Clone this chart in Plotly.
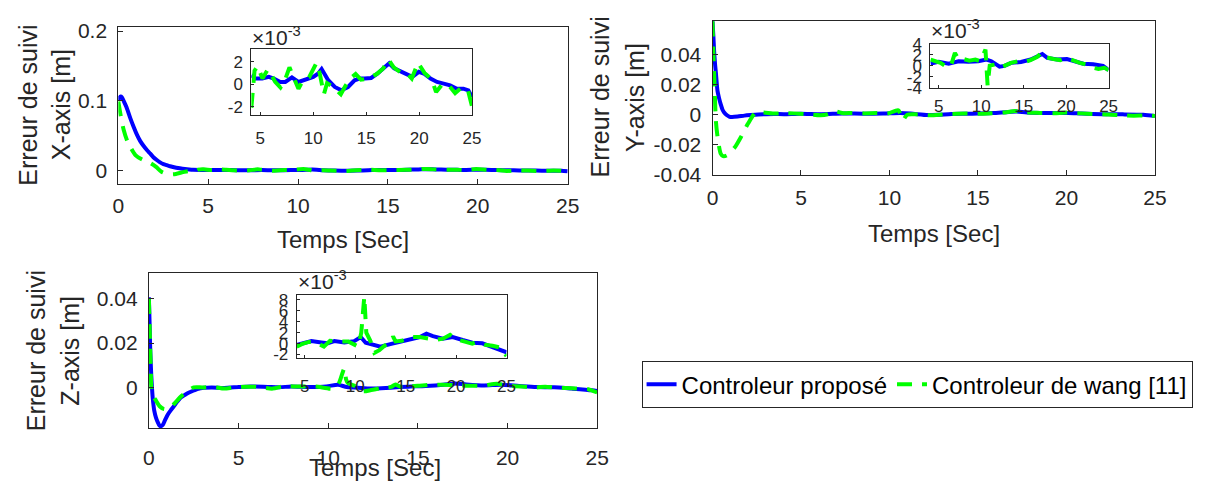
import plotly.graph_objects as go

# ---------------- DATA ----------------
# Transient part (metres)
t_x_blue_tr = [0, 0.05, 0.13, 0.2, 0.31, 0.45, 0.68, 0.86, 1.04, 1.22, 1.41, 1.6, 1.78, 1.95, 2.14, 2.3, 2.51, 2.7, 2.88, 3.1, 3.42, 3.7, 3.95]
x_blue_tr = [0.100, 0.104, 0.106, 0.105, 0.099, 0.091, 0.074, 0.062, 0.051, 0.042, 0.035, 0.029, 0.024, 0.019, 0.015, 0.012, 0.009, 0.0075, 0.006, 0.0045, 0.003, 0.0019, 0.0012]
t_x_green_tr = [0, 0.13, 0.3, 0.5, 0.7, 0.95, 1.3, 1.78, 2.1, 2.4, 2.8, 3.2, 3.6, 3.9]
x_green_tr = [0.099, 0.079, 0.058, 0.042, 0.032, 0.022, 0.016, 0.0105, 0.005, -0.002, -0.0055, -0.005, -0.0025, -0.001]

t_y_blue_tr = [0, 0.05, 0.09, 0.14, 0.19, 0.28, 0.37, 0.47, 0.56, 0.66, 0.8, 0.94, 1.1, 1.42, 1.8, 2.17, 2.6, 3.0, 3.5]
y_blue_tr = [0.062, 0.052, 0.0425, 0.034, 0.028, 0.016, 0.011, 0.0067, 0.0035, 0.0015, -0.0002, -0.0012, -0.0015, -0.0012, -0.0006, -0.0002, 0.0002, 0.0004, 0.0005]
t_y_green_tr = [0, 0.06, 0.13, 0.19, 0.3, 0.47, 0.6, 0.8, 1.0, 1.3, 1.6, 2.0, 2.45, 2.9, 3.4, 3.8]
y_green_tr = [0.062, 0.038, 0.015, -0.004, -0.016, -0.026, -0.0275, -0.027, -0.025, -0.021, -0.015, -0.006, 0.0015, 0.0015, 0.0008, 0.0009]

t_z_blue_tr = [0, 0.04, 0.07, 0.1, 0.13, 0.18, 0.22, 0.3, 0.4, 0.5, 0.59, 0.68, 0.77, 0.9, 1.05, 1.25, 1.42, 1.6, 1.78, 2.0, 2.24, 2.5, 2.7, 3.07, 3.5]
z_blue_tr = [0.0407, 0.029, 0.0186, 0.012, 0.006, -0.001, -0.0053, -0.0105, -0.0138, -0.0158, -0.0172, -0.0175, -0.017, -0.0148, -0.0123, -0.01, -0.0082, -0.0063, -0.0046, -0.0034, -0.0023, -0.0014, -0.0008, -0.0002, 0.0]
t_z_green_tr = [0, 0.05, 0.1, 0.15, 0.25, 0.4, 0.6, 0.85, 1.1, 1.4, 1.8, 2.2, 2.5, 3.0, 3.6]
z_green_tr = [0.040, 0.025, 0.01, -0.001, -0.004, -0.006, -0.0085, -0.0098, -0.0096, -0.0075, -0.004, -0.0015, 0.0, 0.0, 0.0002]

# Steady-state part (units of 1e-3 m)
t_x_blue_ss = [4.15, 4.55, 5.18, 5.8, 6.27, 6.89, 7.36, 7.98, 8.6, 9.23, 10.0, 10.47, 10.79, 11.41, 12.03, 12.65, 13.28, 13.9, 14.36, 14.85, 15.46, 16.08, 16.7, 17.17, 17.64, 18.26, 18.89, 19.35, 19.97, 20.44, 21.07, 21.69, 22.31, 22.93, 23.56, 24.18, 24.65, 25.0]
x_blue_ss = [0.8, 0.5, 0.5, 0.65, 0.5, 0.2, 0.2, 0.6, 0.2, 0.4, 0.65, 0.95, 1.35, 0.35, -0.25, -0.55, -0.25, 0.35, 0.5, 0.5, 0.55, 0.95, 1.4, 1.85, 1.4, 1.1, 0.8, 0.65, 1.1, 0.95, 0.5, 0.2, 0.05, -0.1, -0.4, -0.4, -0.55, -1.15]
t_x_green_ss = [4.15, 4.45, 4.75, 5.2, 5.7, 6.0, 6.4, 6.9, 7.3, 7.75, 8.0, 8.6, 9.0, 9.6, 10.3, 10.6, 11.0, 11.3, 11.8, 12.6, 13.0, 13.5, 14.0, 14.5, 15.2, 16.0, 16.6, 17.1, 17.6, 18.3, 18.8, 19.3, 19.9, 20.5, 21.2, 21.6, 22.2, 22.8, 23.4, 24.0, 24.6, 25.0]
x_green_ss = [-2.1, 1.2, 1.6, 0.5, 1.3, 0.9, 0.2, -0.3, 0.3, 1.5, 0.9, -0.4, 0.3, 0.6, 1.9, 1.0, -0.9, 0.1, -0.2, -0.9, -0.2, 0.5, 0.9, 0.4, 0.5, 0.9, 1.4, 2.2, 1.5, 1.0, 1.0, 0.5, 1.9, 1.0, 0.4, -0.7, 0.0, -0.1, -0.8, -0.3, -0.5, -2.0]

t_y_blue_ss = [4.04, 5.0, 6.17, 7.33, 8.49, 9.65, 10.61, 11.19, 12.16, 12.74, 13.51, 14.67, 15.83, 16.6, 17.19, 17.77, 18.93, 20.09, 20.86, 22.02, 23.18, 24.34, 25.0]
y_blue_ss = [0.4, 0.7, 0.35, 0.8, 0.7, 0.8, 1.1, 0.8, -0.2, -0.05, 0.5, 0.65, 1.1, 1.7, 2.1, 1.4, 1.1, 1.2, 0.8, 0.35, 0.25, -0.05, -0.8]
t_y_green_ss = [4.04, 4.6, 5.2, 6.1, 6.5, 6.9, 7.4, 7.9, 8.6, 9.3, 9.9, 10.5, 10.75, 11.0, 11.6, 12.2, 12.8, 13.5, 14.3, 15.0, 15.8, 16.6, 17.1, 17.7, 18.5, 19.3, 20.0, 20.8, 21.6, 22.4, 23.2, 23.8, 24.5, 25.0]
y_green_ss = [1.1, 0.9, 0.5, -0.4, 0.3, 2.3, 1.0, 1.2, 0.9, 1.1, 0.8, 2.9, -3.6, 0.0, 0.2, -0.4, 0.0, 0.5, 0.8, 0.6, 1.0, 1.6, 2.4, 1.5, 1.2, 1.0, 1.4, 0.9, 0.5, 0.2, -0.4, -0.6, -0.4, -0.8]

t_z_blue_ss = [4.2, 5.01, 5.66, 6.64, 7.29, 7.94, 8.92, 9.9, 10.55, 11.04, 11.85, 12.5, 13.48, 14.45, 15.43, 16.41, 17.06, 17.7, 18.68, 19.66, 20.64, 21.61, 22.59, 23.57, 24.7, 25.0]
z_blue_ss = [-0.25, 0.2, 0.45, 0.2, 0.05, 0.45, 0.2, 0.45, 1.2, 0.15, -0.25, -0.55, -0.1, 0.35, 0.65, 1.2, 1.8, 1.35, 0.9, 1.2, 0.65, 0.15, 0.05, -0.55, -1.3, -1.6]
t_z_green_ss = [4.2, 4.7, 5.4, 6.0, 6.9, 7.5, 8.3, 9.3, 10.3, 10.6, 10.9, 11.0, 11.1, 11.5, 11.9, 12.4, 12.9, 13.5, 13.75, 14.0, 14.6, 15.1, 15.7, 16.4, 17.2, 18.0, 18.7, 19.4, 20.0, 20.8, 21.6, 22.1, 22.8, 23.6, 24.5, 25.0]
z_green_ss = [-0.55, -0.1, 0.3, 0.3, -0.55, 0.5, 0.4, 0.4, -0.55, 2.0, 8.6, 3.5, 2.0, 0.5, -1.7, -1.2, -0.4, 0.2, 1.3, 0.4, 0.5, 0.8, 1.2, 1.2, 1.0, 0.7, 0.9, 1.6, 0.8, 0.4, 0.0, 0.3, -0.2, -0.4, -0.8, -2.3]

series_names = ["Controleur proposé", "Controleur de wang [11]"]
x_ticks = [0, 5, 10, 15, 20, 25]
inset_x_ticks = [5, 10, 15, 20, 25]

# ---------------- STYLE ----------------
FONT = "Liberation Sans, Arial, Helvetica, sans-serif"
TXT = "#262626"
AX = "#262626"
BLUE = "#0000FF"
GREEN = "#00FF00"
W, H = 1230, 496


def full(t_tr, v_tr, t_ss, v_ss):
    return list(t_tr) + list(t_ss), list(v_tr) + [v * 1e-3 for v in v_ss]


fig = go.Figure()

groups = [
    (t_x_blue_tr, x_blue_tr, t_x_blue_ss, x_blue_ss, t_x_green_tr, x_green_tr, t_x_green_ss, x_green_ss),
    (t_y_blue_tr, y_blue_tr, t_y_blue_ss, y_blue_ss, t_y_green_tr, y_green_tr, t_y_green_ss, y_green_ss),
    (t_z_blue_tr, z_blue_tr, t_z_blue_ss, z_blue_ss, t_z_green_tr, z_green_tr, t_z_green_ss, z_green_ss),
]

DASH = "15px,10px"
for i, g in enumerate(groups):
    xa = "x" if i == 0 else f"x{i+1}"
    ya = "y" if i == 0 else f"y{i+1}"
    tb, vb = full(g[0], g[1], g[2], g[3])
    tg, vg = full(g[4], g[5], g[6], g[7])
    fig.add_trace(go.Scatter(x=tb, y=vb, mode="lines", xaxis=xa, yaxis=ya,
                             line=dict(color=BLUE, width=4, shape="spline", smoothing=0.7),
                             name=series_names[0], showlegend=(i == 0), legendgroup="b"))
    fig.add_trace(go.Scatter(x=tg, y=vg, mode="lines", xaxis=xa, yaxis=ya,
                             line=dict(color=GREEN, width=4, dash=DASH, shape="spline", smoothing=0.7),
                             name=series_names[1], showlegend=(i == 0), legendgroup="g"))
    # insets
    xi = f"x{i+4}"
    yi = f"y{i+4}"
    fig.add_trace(go.Scatter(x=g[2], y=g[3], mode="lines", xaxis=xi, yaxis=yi,
                             line=dict(color=BLUE, width=4), showlegend=False))
    fig.add_trace(go.Scatter(x=g[6], y=g[7], mode="lines", xaxis=xi, yaxis=yi,
                             line=dict(color=GREEN, width=4, dash=DASH), showlegend=False))


def px_dom_x(a, b):
    return [a / W, b / W]


def px_dom_y(top, bottom):
    return [1 - bottom / H, 1 - top / H]


def axis(domain, rng, tickvals, ticktext, anchor, fs, standoff, ticklen=5):
    return dict(domain=domain, range=rng, tickvals=tickvals, ticktext=ticktext,
                anchor=anchor, showline=True, mirror=True, linecolor=AX, linewidth=1,
                ticks="inside", ticklen=ticklen, tickcolor=AX, tickwidth=1,
                showgrid=False, zeroline=False, fixedrange=True,
                tickfont=dict(family=FONT, size=fs, color=TXT),
                ticklabelstandoff=standoff)


def lab(vals):
    return [("%g" % v).replace("−", "-") for v in vals]


main_xt = lab(x_ticks)
ins_xt = lab(inset_x_ticks)

yt1 = [0, 0.1, 0.2]
yt2 = [-0.04, -0.02, 0, 0.02, 0.04]
yt3 = [-0.02, 0, 0.02, 0.04]
it1 = [-2, 0, 2]
it2 = [-4, -2, 0, 2, 4]
it3 = [-2, 0, 2, 4, 6, 8]

fig.update_layout(
    width=W, height=H, margin=dict(l=0, r=0, t=0, b=0),
    paper_bgcolor="white", plot_bgcolor="rgba(0,0,0,0)",
    font=dict(family=FONT, color=TXT),
    xaxis=axis(px_dom_x(114, 570), [0, 25], x_ticks, main_xt, "y", 21, 3),
    yaxis=axis(px_dom_y(19, 182), [-0.019, 0.2055], yt1, lab(yt1), "x", 21, 6),
    xaxis2=axis(px_dom_x(717, 1166), [0, 25], x_ticks, main_xt, "y2", 21, 4),
    yaxis2=axis(px_dom_y(12, 173), [-0.04, 0.0625], yt2, lab(yt2), "x2", 21, 6),
    xaxis3=axis(px_dom_x(145, 600), [0, 25], x_ticks, main_xt, "y3", 21, 10),
    yaxis3=axis(px_dom_y(275, 437), [-0.0185, 0.0517], yt3, lab(yt3), "x3", 21, 6),
    xaxis4=axis(px_dom_x(249, 473), [4.15, 25], inset_x_ticks, ins_xt, "y4", 17, 8, 3),
    yaxis4=axis(px_dom_y(42, 110), [-2.7, 3.1], it1, lab(it1), "x4", 17, 4, 3),
    xaxis5=axis(px_dom_x(938, 1119), [4.0, 25], inset_x_ticks, ins_xt, "y5", 17, 3, 3),
    yaxis5=axis(px_dom_y(36, 82), [-4.0, 4.0], it2, lab(it2), "x5", 17, 4, 3),
    xaxis6=axis(px_dom_x(295, 508), [4.2, 25], inset_x_ticks, ins_xt, "y6", 17, 12, 3),
    yaxis6=axis(px_dom_y(298, 364), [-2.7, 8.9], it3, lab(it3), "x6", 17, 4, 3),
    legend=dict(orientation="h", x=645 / W, y=1 - 367 / H, xanchor="left", yanchor="top",
                bgcolor="white", bordercolor=AX, borderwidth=1,
                font=dict(family=FONT, size=24, color="#000000"),
                tracegroupgap=0),
    showlegend=True,
)

ann = []


def text(x, y, s, size, angle=0, xanchor="center"):
    ann.append(dict(x=x / W, y=1 - y / H, xref="paper", yref="paper", text=s,
                    showarrow=False, textangle=angle, xanchor=xanchor, yanchor="middle",
                    font=dict(family=FONT, size=size, color=TXT)))


# y labels (two lines)
text(22, 100, "Erreur de suivi", 25, -90)
text(56, 100, "X-axis [m]", 25, -90)
text(603, 92, "Erreur de suivi", 25, -90)
text(639, 92, "Y-axis [m]", 25, -90)
text(30, 356, "Erreur de suivi", 25, -90)
text(65, 356, "Z-axis [m]", 25, -90)
# x labels
text(342, 240, "Temps [Sec]", 24)
text(942, 234, "Temps [Sec]", 24)
text(374, 478, "Temps [Sec]", 24)
# exponent labels
text(248, 28, "×10<sup>-3</sup>", 21, 0, "left")
text(937, 21, "×10<sup>-3</sup>", 21, 0, "left")
text(294, 282, "×10<sup>-3</sup>", 21, 0, "left")

fig.update_layout(annotations=ann)

fig.write_html("out.html")
